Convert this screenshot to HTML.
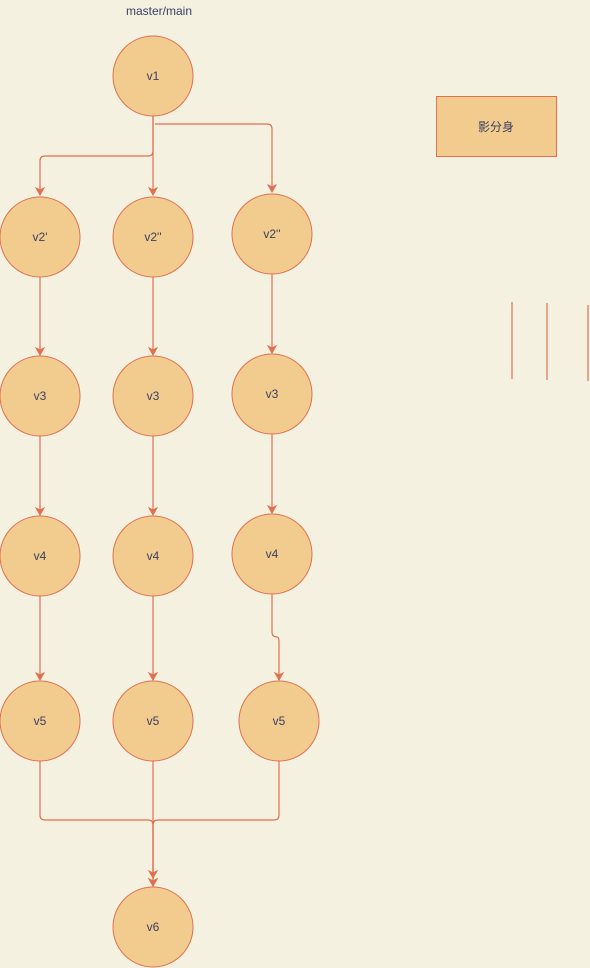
<!DOCTYPE html>
<html><head><meta charset="utf-8"><style>
html,body{margin:0;padding:0;background:#F4F1E0;}
svg{display:block;}
text{font-family:"Liberation Sans","Noto Sans CJK SC",sans-serif;font-size:12px;fill:#3a4060;}
</style></head><body>
<svg width="590" height="968" viewBox="0 0 590 968">
<defs>
<marker id="ah" markerWidth="10" markerHeight="10" refX="8" refY="5" orient="auto" markerUnits="userSpaceOnUse">
<path d="M1,1 L8,5 L1,9 L3,5 Z" fill="#E07050" stroke="#E07050" stroke-width="1"/>
</marker>
</defs>
<rect width="590" height="968" fill="#F4F1E0"/>
<g fill="none" stroke="#E07050" stroke-width="1.2">
<path d="M153,116 V151 Q153,156 148,156 H45 Q40,156 40,161 V195" marker-end="url(#ah)"/>
<path d="M153,116 V195" marker-end="url(#ah)"/>
<path d="M155,124 H267 Q272,124 272,129 V192" marker-end="url(#ah)"/>
<path d="M40,277 V355" marker-end="url(#ah)"/>
<path d="M40,436 V515" marker-end="url(#ah)"/>
<path d="M40,596 V680" marker-end="url(#ah)"/>
<path d="M153,277 V355" marker-end="url(#ah)"/>
<path d="M153,436 V515" marker-end="url(#ah)"/>
<path d="M153,596 V680" marker-end="url(#ah)"/>
<path d="M272,274 V353" marker-end="url(#ah)"/>
<path d="M272,434 V513" marker-end="url(#ah)"/>
<path d="M272,594 V632 Q272,637 277,637 Q279,637 279,642 V680" marker-end="url(#ah)"/>
<path d="M40,761 V815 Q40,820 45,820 H148 Q153,820 153,825 V886" marker-end="url(#ah)"/>
<path d="M153,761 V886" marker-end="url(#ah)"/>
<path d="M279,761 V815 Q279,820 274,820 H158 Q153,820 153,825 V878" marker-end="url(#ah)"/>
<line x1="512" y1="302" x2="512" y2="379"/>
<line x1="547" y1="303" x2="547" y2="380"/>
<line x1="588" y1="305" x2="588" y2="381"/>
</g>
<text x="159" y="15" text-anchor="middle">master/main</text>
<g fill="#F2CC8F" stroke="#E07050" stroke-width="1">
<g><circle cx="153" cy="76" r="40"/><text x="153" y="80" text-anchor="middle" stroke="none">v1</text></g>
<g><circle cx="40" cy="237" r="40"/><text x="40" y="241" text-anchor="middle" stroke="none">v2'</text></g>
<g><circle cx="153" cy="237" r="40"/><text x="153" y="241" text-anchor="middle" stroke="none">v2''</text></g>
<g><circle cx="272" cy="234" r="40"/><text x="272" y="238" text-anchor="middle" stroke="none">v2''</text></g>
<g><circle cx="40" cy="396" r="40"/><text x="40" y="400" text-anchor="middle" stroke="none">v3</text></g>
<g><circle cx="153" cy="396" r="40"/><text x="153" y="400" text-anchor="middle" stroke="none">v3</text></g>
<g><circle cx="272" cy="394" r="40"/><text x="272" y="398" text-anchor="middle" stroke="none">v3</text></g>
<g><circle cx="40" cy="556" r="40"/><text x="40" y="560" text-anchor="middle" stroke="none">v4</text></g>
<g><circle cx="153" cy="556" r="40"/><text x="153" y="560" text-anchor="middle" stroke="none">v4</text></g>
<g><circle cx="272" cy="554" r="40"/><text x="272" y="558" text-anchor="middle" stroke="none">v4</text></g>
<g><circle cx="40" cy="721" r="40"/><text x="40" y="725" text-anchor="middle" stroke="none">v5</text></g>
<g><circle cx="153" cy="721" r="40"/><text x="153" y="725" text-anchor="middle" stroke="none">v5</text></g>
<g><circle cx="279" cy="721" r="40"/><text x="279" y="725" text-anchor="middle" stroke="none">v5</text></g>
<g><circle cx="153" cy="927" r="40"/><text x="153" y="931" text-anchor="middle" stroke="none">v6</text></g>
<g><rect x="436.5" y="96.5" width="120" height="60"/><text x="496" y="131" text-anchor="middle" stroke="none">影分身</text></g>
</g>
</svg>
</body></html>
